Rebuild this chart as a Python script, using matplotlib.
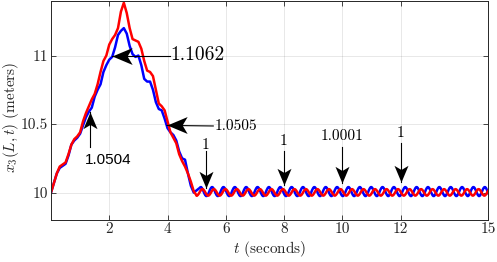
import numpy as np
import matplotlib
matplotlib.use('Agg')
import matplotlib.pyplot as plt
from matplotlib.path import Path
from matplotlib.patches import PathPatch
from matplotlib.markers import MarkerStyle
from matplotlib.transforms import Affine2D

plt.rcParams['mathtext.fontset'] = 'cm'
plt.rcParams['font.family'] = 'serif'
plt.rcParams['font.serif'] = ['cmr10']
plt.rcParams['axes.formatter.use_mathtext'] = True

# transitoire (pas de 0.1 s, de 0 a 4.9 s)
t_tr = np.arange(50) * 0.1
blue_tr = [10.00, 10.07, 10.14, 10.18, 10.195, 10.21, 10.27, 10.35, 10.38, 10.40,
           10.43, 10.49, 10.55, 10.59, 10.62, 10.70, 10.75, 10.79, 10.88, 10.93,
           10.97, 10.99, 11.06, 11.15, 11.18, 11.20, 11.16, 11.07, 11.01, 10.99,
           11.00, 10.93, 10.83, 10.81, 10.81, 10.75, 10.66, 10.61, 10.60, 10.54,
           10.47, 10.44, 10.42, 10.38, 10.30, 10.25, 10.24, 10.14, 10.05, 10.00]
red_tr = [10.00, 10.07, 10.14, 10.19, 10.205, 10.22, 10.28, 10.35, 10.39, 10.41,
          10.44, 10.52, 10.58, 10.63, 10.68, 10.72, 10.79, 10.88, 10.96, 11.00,
          11.08, 11.12, 11.15, 11.20, 11.32, 11.385, 11.31, 11.20, 11.12, 11.11,
          11.10, 11.05, 10.96, 10.89, 10.88, 10.85, 10.75, 10.65, 10.63, 10.60,
          10.52, 10.44, 10.40, 10.36, 10.28, 10.23, 10.19, 10.14, 10.08, 10.01]

# regime oscillant : extremums successifs (pic / creux)
t_blue_osc = 5.14 + 0.195 * np.arange(52)
blue_osc = [10.04, 9.975, 10.04, 9.975, 10.04, 9.975, 10.04, 9.975, 10.04, 9.975,
            10.04, 9.975, 10.04, 9.975, 10.04, 9.975, 10.04, 9.975, 10.04, 9.975,
            10.04, 9.975, 10.04, 9.975, 10.04, 9.975, 10.04, 9.975, 10.04, 9.975,
            10.04, 9.975, 10.04, 9.975, 10.04, 9.975, 10.04, 9.975, 10.04, 9.975,
            10.04, 9.975, 10.04, 9.975, 10.04, 9.975, 10.04, 9.975, 10.04, 9.975,
            10.04, 9.975]
t_red_osc = 5.0 + 0.1975 * np.arange(52)
red_osc = [9.978, 10.025, 9.978, 10.025, 9.978, 10.025, 9.978, 10.025, 9.978, 10.025,
           9.978, 10.025, 9.978, 10.025, 9.978, 10.025, 9.978, 10.025, 9.978, 10.025,
           9.978, 10.025, 9.978, 10.025, 9.978, 10.025, 9.978, 10.025, 9.978, 10.025,
           9.978, 10.025, 9.978, 10.025, 9.978, 10.025, 9.978, 10.025, 9.978, 10.025,
           9.978, 10.025, 9.978, 10.025, 9.978, 10.025, 9.978, 10.025, 9.978, 10.025,
           9.978, 10.025]

x_ticks = [2, 4, 6, 8, 10, 12, 15]
y_ticks = [10, 10.5, 11]
y_labels = ['10', '10.5', '11']

# fleches : texte, position texte, queue, pointe, taille police, alignement, sans serif
notes = [
    ('1.0504', (1.98, 10.239), (1.35, 10.33), (1.35, 10.587), 11, 'center', True),
    ('1.1062', (4.09, 11.0), (4.09, 11.0), (2.09, 11.0), 14, 'left', False),
    ('1.0505', (5.60, 10.486), (5.57, 10.486), (3.98, 10.49), 11, 'left', False),
    ('1', (5.29, 10.348), (5.33, 10.30), (5.33, 10.036), 11, 'center', False),
    ('1', (7.98, 10.372), (8.0, 10.30), (8.0, 10.058), 11, 'center', False),
    ('1.0001', (10.0, 10.413), (10.0, 10.335), (10.0, 10.07), 11, 'center', False),
    ('1', (12.0, 10.433), (12.0, 10.36), (12.0, 10.075), 11, 'center', False),
]

# tete de fleche type MATLAB (vback2), pointe vers le haut
head = Path([(0, 0), (0.42, -1), (0, -0.75), (-0.42, -1), (0, 0)],
            [Path.MOVETO, Path.LINETO, Path.LINETO, Path.LINETO, Path.CLOSEPOLY])


def sine_path(t, y):
    # courbe lisse (Bezier) entre extremums successifs
    k = 0.3642
    verts = [(t[0], y[0])]
    codes = [Path.MOVETO]
    for i in range(len(t) - 1):
        d = t[i + 1] - t[i]
        verts += [(t[i] + k * d, y[i]), (t[i + 1] - k * d, y[i + 1]), (t[i + 1], y[i + 1])]
        codes += [Path.CURVE4] * 3
    return Path(verts, codes)


gris = '#262626'
fig = plt.figure(figsize=(4.97, 2.62), dpi=100)
ax = fig.add_axes([0.1026, 0.1603, 0.8793, 0.837])

for t_osc, v_tr, v_osc, col, z in [(t_blue_osc, blue_tr, blue_osc, '#0000ff', 2),
                                    (t_red_osc, red_tr, red_osc, '#ff0000', 2.1)]:
    ax.plot(list(t_tr) + [t_osc[0]], v_tr + [v_osc[0]], color=col, lw=1.8,
            solid_joinstyle='round', solid_capstyle='round', zorder=z)
    ax.add_patch(PathPatch(sine_path(t_osc, v_osc), fill=False, edgecolor=col,
                           lw=1.8, capstyle='round', zorder=z))

ax.set_xlim(0, 15)
ax.set_ylim(9.8, 11.4)
ax.set_xticks(x_ticks)
ax.set_xticklabels([str(v) for v in x_ticks])
ax.set_yticks(y_ticks)
ax.set_yticklabels(y_labels)
ax.tick_params(direction='in', top=True, right=True, length=3.5, width=0.6,
               labelsize=11, colors=gris)
ax.tick_params(axis='x', pad=2)
ax.tick_params(axis='y', pad=2)
ax.grid(True, color=gris, alpha=0.15, lw=0.5)
for sp in ax.spines.values():
    sp.set_color(gris)
    sp.set_linewidth(0.7)

ax.set_xlabel(r'$t$ (seconds)', fontsize=11, color=gris)
ax.set_ylabel(r'$x_3(L,t)$ (meters)', fontsize=11, color=gris)
ax.xaxis.set_label_coords(0.5, -0.088)
ax.yaxis.set_label_coords(-0.069, 0.47)

for txt, pos, tail, tip, fs, ha, sans in notes:
    big = txt in ('1.1062', '1.0505')
    ax.plot([tail[0], tip[0]], [tail[1], tip[1]], color='k', lw=0.8, zorder=5)
    if tip[0] < tail[0]:
        ang = 90
    elif tip[1] > tail[1]:
        ang = 0
    else:
        ang = 180
    mk = MarkerStyle(head, transform=Affine2D().rotate_deg(ang))
    ax.plot([tip[0]], [tip[1]], marker=mk, ms=29 if big else 24, color='k',
            mew=0, zorder=6)
    fam = 'Liberation Sans' if sans else 'cmr10'
    ax.text(pos[0], pos[1], txt, fontsize=fs, ha=ha, va='center', color='k', family=fam)

fig.savefig('out.png', dpi=100)
